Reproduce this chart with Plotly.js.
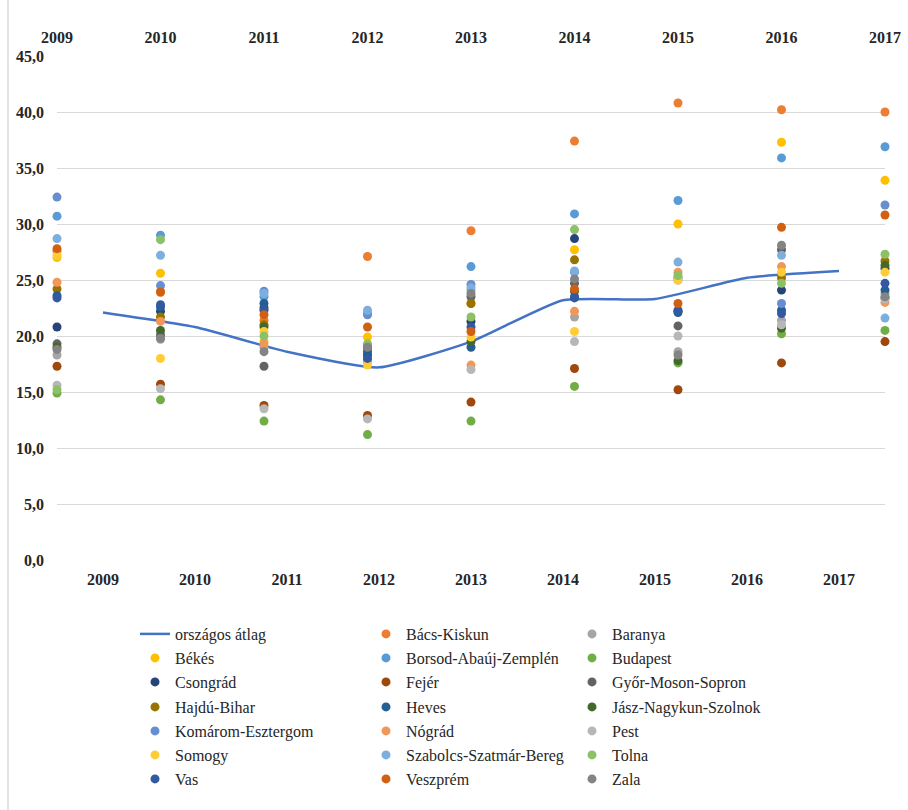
<!DOCTYPE html>
<html>
<head>
<meta charset="utf-8">
<script src="https://cdn.plot.ly/plotly-3.0.1.min.js"></script>
<style>html,body{margin:0;padding:0;background:#fff;}#chart{width:908px;height:810px;}</style>
</head>
<body>
<div id="chart"></div>
<script>
// ---- data ----
const yearLabels = ['2009','2010','2011','2012','2013','2014','2015','2016','2017'];
const years = [2009, 2010, 2011, 2012, 2013, 2014, 2015, 2016, 2017];
const orszagosAtlag = [22.1, 20.8, 18.6, 17.2, 19.5, 23.2, 23.3, 25.2, 25.8];

const bacsKiskun   = [27.6, 24.0, 21.4, 27.1, 29.4, 37.4, 40.8, 40.2, 40.0];
const baranya      = [18.3, 19.7, 19.0, 18.9, 24.1, 21.7, 18.6, 21.4, 23.8];
const bekes        = [27.0, 25.6, 19.5, 19.9, 22.9, 27.7, 30.0, 37.3, 33.9];
const borsod       = [30.7, 29.0, 23.5, 22.0, 26.2, 30.9, 32.1, 35.9, 36.9];
const budapest     = [14.9, 14.3, 12.4, 11.2, 12.4, 15.5, 17.6, 20.2, 20.5];
const csongrad     = [20.8, 22.2, 22.5, 18.3, 21.3, 28.7, 22.2, 24.1, 26.0];
const fejer        = [17.3, 15.7, 13.8, 12.9, 14.1, 17.1, 15.2, 17.6, 19.5];
const gyor         = [19.3, 20.1, 17.3, 19.0, 23.5, 24.7, 20.9, 27.7, 23.4];
const hajduBihar   = [24.2, 21.7, 21.0, 17.9, 22.9, 26.8, 25.2, 25.2, 26.7];
const heves        = [23.6, 22.6, 22.9, 18.6, 19.0, 23.5, 22.1, 22.3, 24.1];
const jasz         = [19.0, 20.5, 20.8, 19.2, 19.5, 24.0, 17.8, 20.7, 26.3];
const komarom      = [32.4, 24.5, 24.0, 21.9, 24.6, 25.7, 25.0, 22.9, 31.7];
const nograd       = [24.8, 21.3, 19.3, 17.7, 17.4, 22.2, 25.7, 26.2, 23.0];
const pest         = [15.6, 15.3, 13.5, 12.6, 17.0, 19.5, 20.0, 21.0, 23.3];
const somogy       = [27.2, 18.0, 20.4, 17.4, 19.9, 20.4, 25.0, 25.7, 25.7];
const szabolcs     = [28.7, 27.2, 23.8, 22.3, 24.3, 25.8, 26.6, 27.2, 21.6];
const tolna        = [15.2, 28.6, 20.0, 19.3, 21.7, 29.5, 25.4, 24.7, 27.3];
const vas          = [23.4, 22.8, 22.3, 18.0, 20.8, 23.4, 22.3, 22.0, 24.7];
const veszprem     = [27.8, 23.9, 21.9, 20.8, 20.4, 24.2, 22.9, 29.7, 30.8];
const zala         = [18.8, 19.8, 18.6, 19.0, 23.8, 25.1, 18.3, 28.1, 23.5];

const lineName = 'országos átlag';
const countyNames = ['Bács-Kiskun','Baranya','Békés','Borsod-Abaúj-Zemplén','Budapest','Csongrád','Fejér','Győr-Moson-Sopron','Hajdú-Bihar','Heves','Jász-Nagykun-Szolnok','Komárom-Esztergom','Nógrád','Pest','Somogy','Szabolcs-Szatmár-Bereg','Tolna','Vas','Veszprém','Zala'];
const countyValues = [bacsKiskun, baranya, bekes, borsod, budapest, csongrad, fejer, gyor, hajduBihar, heves, jasz, komarom, nograd, pest, somogy, szabolcs, tolna, vas, veszprem, zala];

// ---- styles ----
const lineColor = '#4472C4';
const countyColors = ['#ED7D31','#A5A5A5','#FFC000','#5B9BD5','#70AD47','#264478','#9E480E','#636363','#997300','#255E91','#43682B','#698ED0','#F1975A','#B7B7B7','#FFCD33','#7CAFDD','#8CC168','#335AA1','#D26012','#848484'];

const FONT = 'Liberation Serif';
const TXT = '#262626';
const TICKFONT = {family: FONT, size: 16, color: TXT, weight: 'bold'};
const colWidths = [186, 161, 200];

function legendId(i) { const r = Math.floor(i / 3); return r === 0 ? 'legend' : 'legend' + (r + 1); }

const traces = [];
traces.push({
  type: 'scatter', mode: 'lines', name: lineName,
  x: yearLabels, y: orszagosAtlag, xaxis: 'x', yaxis: 'y',
  line: {color: lineColor, width: 2.5, shape: 'spline', smoothing: 0.5},
  legend: legendId(0), legendwidth: colWidths[0], hoverinfo: 'x+y'
});
countyNames.forEach((nm, i) => {
  traces.push({
    type: 'scatter', mode: 'markers', name: nm,
    x: years, y: countyValues[i], xaxis: 'x2', yaxis: 'y',
    marker: {color: countyColors[i], size: 9},
    cliponaxis: false,
    legend: legendId(i + 1),
    legendwidth: colWidths[(i + 1) % 3]
  });
});

const L = 57, R = 23, T = 56, B = 250;
const plotH = 810 - T - B, plotW = 908 - L - R;
const rowsPx = [634, 658, 682, 707, 731, 755, 779];
const legendX = (135 - L) / plotW;

const layout = {
  width: 908, height: 810,
  margin: {l: L, r: R, t: T, b: B, autoexpand: false},
  paper_bgcolor: '#ffffff', plot_bgcolor: '#ffffff',
  separators: ', ',
  font: {family: FONT, size: 16, color: TXT},
  showlegend: true,
  xaxis: {
    type: 'category', categoryorder: 'array', categoryarray: yearLabels,
    range: [-0.5, 8.5],
    showgrid: false, zeroline: false, showline: false, ticks: '',
    ticklabelstandoff: 8,
    tickfont: TICKFONT
  },
  xaxis2: {
    overlaying: 'x', side: 'top', range: [2009, 2017],
    tickvals: years, ticktext: yearLabels,
    showgrid: false, zeroline: false, showline: false, ticks: '',
    ticklabelstandoff: 9,
    tickfont: TICKFONT
  },
  yaxis: {
    range: [0, 45], dtick: 5, tick0: 0, tickformat: '.1f',
    showgrid: true, gridcolor: '#d9d9d9', gridwidth: 1,
    zeroline: false, showline: false, ticks: '',
    ticklabelstandoff: 12,
    tickfont: TICKFONT
  },
  shapes: [{
    type: 'line', xref: 'paper', yref: 'paper',
    x0: (8 - L) / plotW, x1: (8 - L) / plotW,
    y0: -B / plotH, y1: (plotH + T) / plotH,
    line: {color: '#e3e3e3', width: 2}
  }]
};

rowsPx.forEach((py, r) => {
  const key = r === 0 ? 'legend' : 'legend' + (r + 1);
  layout[key] = {
    orientation: 'h', x: legendX, xanchor: 'left',
    y: (T + plotH - py) / plotH, yanchor: 'middle',
    bgcolor: 'rgba(0,0,0,0)', borderwidth: 0,
    font: {family: FONT, size: 16, color: TXT},
    traceorder: 'normal'
  };
});

Plotly.newPlot('chart', traces, layout, {displayModeBar: false, staticPlot: true});
</script>
</body>
</html>
